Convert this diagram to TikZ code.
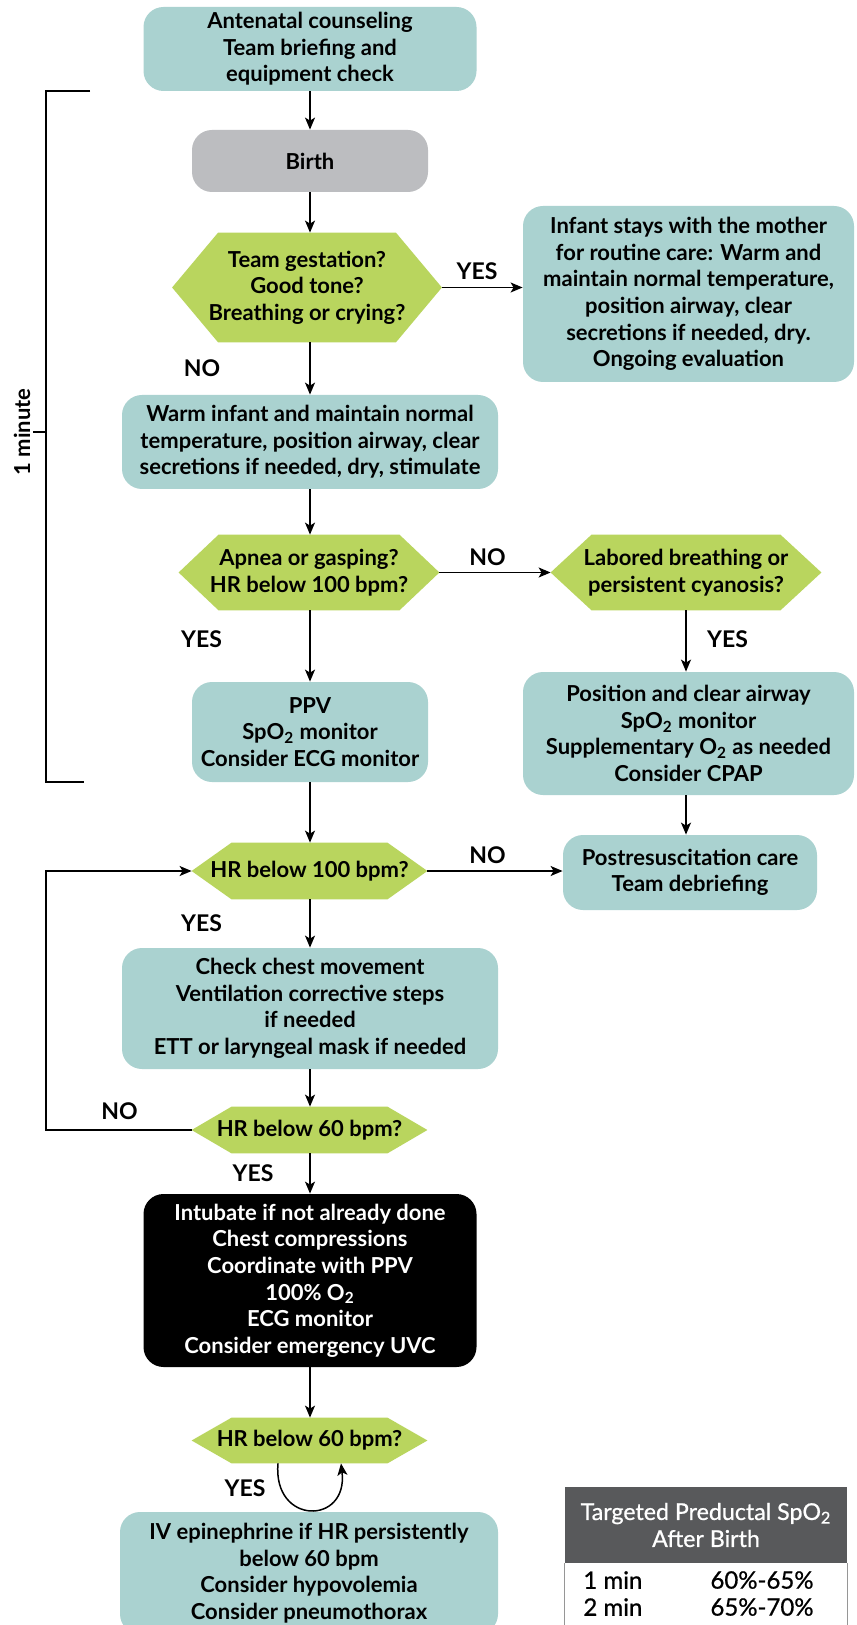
\documentclass[tikz,border=0pt]{standalone}
\usepackage{fontspec}
\setmainfont{Lato}
\newfontfamily\medfont{Lato}[FakeBold=0.8]
\usetikzlibrary{arrows.meta,calc,backgrounds}
\definecolor{tealbox}{RGB}{170,210,208}
\definecolor{hexgreen}{RGB}{185,213,94}
\definecolor{birthgray}{RGB}{188,189,192}
\definecolor{hdrgray}{RGB}{88,89,91}
\definecolor{tblborder}{RGB}{150,150,150}
\newcommand{\drawhex}[2]{%
  \fill[hexgreen] ([xshift=#2]#1.north west) -- ([xshift=-#2]#1.north east) -- (#1.east)
    -- ([xshift=-#2]#1.south east) -- ([xshift=#2]#1.south west) -- (#1.west) -- cycle;}
\begin{document}
\begin{tikzpicture}[x=0.5pt,y=-0.5pt,
  font=\fontsize{11}{13.3}\selectfont\bfseries,
  sz/.style 2 args={minimum width=#1*0.5pt, minimum height=#2*0.5pt},
  box/.style={fill=tealbox, rounded corners=10pt, align=center, inner sep=0pt},
  graybox/.style={fill=birthgray, rounded corners=10pt, align=center, inner sep=0pt},
  blackbox/.style={fill=black, text=white, rounded corners=10pt, align=center, inner sep=0pt},
  hexnode/.style={align=center, inner sep=0pt},
  lbl/.style={font=\fontsize{11.5}{13}\selectfont\bfseries, inner sep=0pt},
  arr/.style={-{Stealth[length=6pt,width=5pt,inset=1.5pt]}, line width=0.75pt},
  plain/.style={line width=0.75pt},
  tbl/.style={font=\fontsize{11.6}{13.5}\selectfont\medfont, inner sep=0pt},
  tblrow/.style={font=\fontsize{12}{13.5}\selectfont\medfont, inner sep=0pt}
]
\useasboundingbox (0,0) rectangle (856,1625);

% ---- nodes ----
\node[box, sz={333}{84}] (top) at (310,49) {Antenatal counseling\\Team briefing and\\equipment check};
\node[graybox, sz={236}{62}] (birth) at (310,161) {Birth};
\node[hexnode, sz={269}{109}] (h1) at (307,287.5) {Team gestation?\\Good tone?\\Breathing or crying?};
\node[box, sz={331}{176}] (infant) at (688.5,294) {Infant stays with the mother\\for routine care: Warm and\\maintain normal temperature,\\position airway, clear\\secretions if needed, dry.\\Ongoing evaluation};
\node[box, sz={376}{94}] (warm) at (310,442) {Warm infant and maintain normal\\temperature, position airway, clear\\secretions if needed, dry, stimulate};
\node[hexnode, sz={260}{75}] (h2) at (309,572.5) {Apnea or gasping?\\HR below 100 bpm?};
\node[hexnode, sz={270}{75}] (h3) at (686,572.5) {Labored breathing or\\persistent cyanosis?};
\node[box, sz={236}{100}] (ppv) at (310,732) {PPV\\SpO\textsubscript{2} monitor\\Consider ECG monitor};
\node[box, sz={331}{123}] (pos) at (688.5,733.5) {Position and clear airway\\SpO\textsubscript{2} monitor\\Supplementary O\textsubscript{2} as needed\\Consider CPAP};
\node[hexnode, sz={235}{56}] (h4) at (309.5,871) {HR below 100 bpm?};
\node[box, sz={254}{75}] (post) at (690,872.5) {Postresuscitation care\\Team debriefing};
\node[box, sz={376}{121}] (check) at (310,1008.5) {Check chest movement\\Ventilation corrective steps\\if needed\\ETT or laryngeal mask if needed};
\node[hexnode, sz={235}{46}] (h5) at (309.5,1130) {HR below 60 bpm?};
\node[blackbox, sz={333}{173}] (comp) at (310,1280.5) {Intubate if not already done\\Chest compressions\\Coordinate with PPV\\100\% O\textsubscript{2}\\ECG monitor\\Consider emergency UVC};
\node[hexnode, sz={235}{45}] (h6) at (309.5,1440.5) {HR below 60 bpm?};
\node[box, sz={378}{122}] (iv) at (309,1573) {IV epinephrine if HR persistently\\below 60 bpm\\Consider hypovolemia\\Consider pneumothorax};

\begin{pgfonlayer}{background}
\fill[white] (0,0) rectangle (856,1625);
\drawhex{h1}{23pt}
\drawhex{h2}{20pt}
\drawhex{h3}{20.5pt}
\drawhex{h4}{20pt}
\drawhex{h5}{20pt}
\drawhex{h6}{20pt}
\end{pgfonlayer}

% ---- labels ----
\node[lbl] (yes1) at (477,271) {YES};
\node[lbl] (no1) at (202,368) {NO};
\node[lbl] (yes2) at (201.5,639) {YES};
\node[lbl] (no2) at (487.5,557) {NO};
\node[lbl] (yes3) at (727.5,639) {YES};
\node[lbl] (no3) at (487.5,855) {NO};
\node[lbl] (yes4) at (201.5,923) {YES};
\node[lbl] (no4) at (119.5,1111) {NO};
\node[lbl] (yes5) at (253,1173) {YES};
\node[lbl] (yes6) at (245,1488) {YES};

% ---- connectors ----
\draw[arr] (top) -- (birth);
\draw[arr] (birth) -- (birth |- h1.north);
\draw[arr] (h1.east) -- (h1.east -| infant.west);
\draw[arr] (h1.south -| warm.north) -- (warm);
\draw[arr] (warm) -- (warm |- h2.north);
\draw[arr] (h2.east) -- (h3.west);
\draw[arr] (h2.south -| ppv.north) -- (ppv);
\draw[arr] (h3.south) -- (h3.south |- pos.north);
\draw[arr] (pos.south -| h3.south) -- (h3.south |- post.north);
\draw[arr] (ppv) -- (ppv |- h4.north);
\draw[arr] (h4.east) -- (h4.east -| post.west);
\draw[arr] (h4.south -| check.north) -- (check);
\draw[arr] (check) -- (check |- h5.north);
\draw[arr] (h5.south -| comp.north) -- (comp);
\draw[arr] (comp) -- (comp |- h6.north);
\coordinate (loopx) at (46,0);
\draw[arr] (h5.west) -- (h5.west -| loopx) |- (h4.west);
\draw[arr] ($(h6.south)+(-31.5,0)$) .. controls ($(h6.south)+(-37,62)$) and ($(h6.south)+(39,62)$) .. ($(h6.south)+(31.5,0)$);

% ---- one-minute bracket ----
\coordinate (bt) at (90,91);
\coordinate (bb) at (84,782);
\coordinate (bm) at (46,432);
\draw[plain] (bt) -- (bt -| loopx) -- (bb -| loopx) -- (bb);
\draw[plain] (bm) -- ++(-13,0);
\node[rotate=90, inner sep=0pt] (onemin) at (22,432) {1 minute};

% ---- SpO2 table ----
\node[fill=hdrgray, text=white, tbl, align=center, sz={282}{76}] (thead) at (706,1525) {Targeted Preductal SpO\textsubscript{2}\\After Birth};
\draw[tblborder, line width=0.75pt] (thead.south west) -- ++(0,70);
\draw[tblborder, line width=0.75pt] (thead.south east) -- ++(0,70);
\node[tblrow, anchor=west] (r1a) at (583,1580) {1 min};
\node[tblrow] (r1b) at (762,1580) {60\%-65\%};
\node[tblrow, anchor=west] (r2a) at (583,1607) {2 min};
\node[tblrow] (r2b) at (762,1607) {65\%-70\%};
\end{tikzpicture}
\end{document}
